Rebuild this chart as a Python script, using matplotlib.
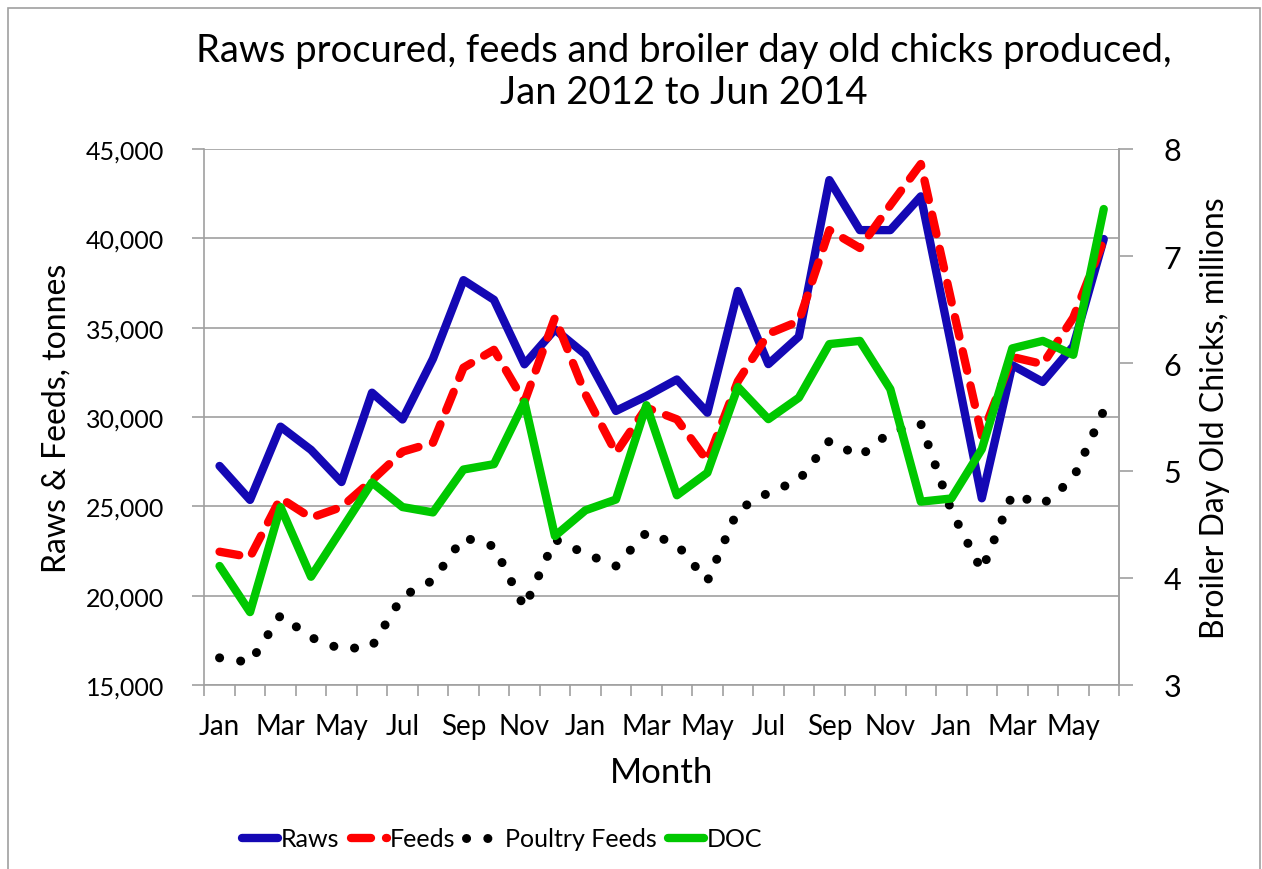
import matplotlib
matplotlib.use("Agg")
import matplotlib.pyplot as plt
from matplotlib.patches import Rectangle
from matplotlib.ticker import FuncFormatter, FixedLocator

plt.rcParams['font.family'] = ['Lato', 'DejaVu Sans']

# --- data ---
months = ['Jan', 'Feb', 'Mar', 'Apr', 'May', 'Jun', 'Jul', 'Aug', 'Sep', 'Oct', 'Nov', 'Dec'] * 2 + \
         ['Jan', 'Feb', 'Mar', 'Apr', 'May', 'Jun']

raws = [27260, 25360, 29460, 28160, 26360, 31360, 29860, 33260, 37660, 36560, 32950, 34900,
        33500, 30340, 31170, 32100, 30240, 37050, 32960, 34500, 43260, 40460, 40460, 42350,
        34000, 25450, 32900, 31960, 33960, 39960]
feeds = [22460, 22160, 25460, 24360, 24960, 26460, 28060, 28560, 32760, 33760, 30850, 35560,
         31270, 28000, 30520, 29870, 27540, 32000, 34660, 35360, 40460, 39460, 41860, 44160,
         36500, 28960, 33360, 32960, 35560, 39900]
poultry = [16520, 16260, 18900, 17660, 17000, 17160, 19960, 20860, 23260, 22760, 19330, 23150,
           22350, 21660, 23530, 22870, 20820, 24800, 25760, 26460, 28660, 27800, 29160, 29620,
           24760, 21400, 25650, 25120, 26560, 30360]
doc = [4.11, 3.68, 4.66, 4.01, 4.45, 4.89, 4.66, 4.61, 5.01, 5.06, 5.64, 4.39,
       4.63, 4.73, 5.61, 4.77, 4.98, 5.78, 5.48, 5.68, 6.18, 6.21, 5.76, 4.71,
       4.74, 5.20, 6.14, 6.21, 6.08, 7.44]

x = list(range(len(months)))
grey = '#A0A0A0'

fig = plt.figure(figsize=(12.62, 8.7), dpi=100)
W, H = 1262, 870
# plot area in pixels: left 204, right 1119, top 150, bottom 686
ax = fig.add_axes([204.3 / W, 1 - 686 / H, (1119 - 204.3) / W, (686 - 150) / H])
ax2 = ax.twinx()

# chart border
fig.patches.append(Rectangle((8 / W, -0.05), (1260 - 8) / W, 1.05 - 9 / H, transform=fig.transFigure,
                             fill=False, edgecolor=grey, lw=1.2))

l1, = ax.plot(x, raws, color='#1408B4', lw=6, solid_joinstyle='round', solid_capstyle='round', label='Raws')
l2, = ax.plot(x, feeds, color='#FF0000', lw=6, dashes=(2.4, 1.8), dash_capstyle='round',
              dash_joinstyle='round', label='Feeds')
l3, = ax.plot(x, poultry, color='black', lw=6.5, dashes=(0.01, 2.35), dash_capstyle='round',
              label='Poultry Feeds')
l4, = ax2.plot(x, doc, color='#00C800', lw=6, solid_joinstyle='round', solid_capstyle='round', label='DOC')

ax.set_xlim(-0.5, len(months) - 0.5)
ax.set_ylim(15000, 45000)
ax2.set_ylim(3, 8)
ax.set_yticks(range(15000, 45001, 5000))
ax.yaxis.set_major_formatter(FuncFormatter(lambda v, p: f'{int(v):,}'))
ax2.set_yticks(range(3, 9))

# ticks at category boundaries, labels at every other month
ax.xaxis.set_major_locator(FixedLocator([i - 0.5 for i in range(len(months) + 1)]))
ax.xaxis.set_major_formatter(FuncFormatter(lambda v, p: ''))
ax.set_xticks(x[::2], minor=True)
ax.set_xticklabels(months[::2], minor=True)
ax.tick_params(axis='x', which='major', length=8, color=grey, width=1.2)
ax.tick_params(axis='x', which='minor', length=0, pad=20, labelsize=20)
ax.tick_params(axis='y', length=9, color=grey, width=1.2, pad=20, labelsize=18)
ax2.tick_params(axis='y', length=10, color=grey, width=1.2, pad=22, labelsize=22)

ax.grid(axis='y', color=grey, lw=1.2)
ax.set_axisbelow(True)
for a in (ax, ax2):
    a.spines['top'].set_visible(False)
    for s in ('left', 'right', 'bottom'):
        a.spines[s].set_color(grey)
        a.spines[s].set_linewidth(1.2)
ax2.spines['left'].set_visible(False)
ax2.spines['bottom'].set_visible(False)

ax.set_ylabel('Raws & Feeds, tonnes', fontsize=23)
ax.yaxis.set_label_coords((72 - 204.3) / 914.7, 0.5)
ax2.set_ylabel('Broiler Day Old Chicks, millions', fontsize=23)
ax2.yaxis.set_label_coords((1200 - 204.3) / 914.7, 0.5)
ax.set_xlabel('Month', fontsize=25)
ax.xaxis.set_label_coords(0.5, (686 - 757) / 536)

fig.text(684 / W, 1 - 72 / H, 'Raws procured, feeds and broiler day old chicks produced,\nJan 2012 to Jun 2014',
         ha='center', va='center', fontsize=27.5, linespacing=1.22)

fig.legend(handles=[l1, l2, l3, l4], loc='center', bbox_to_anchor=(502 / W, 1 - 840 / H), ncol=4,
           frameon=False, fontsize=18, handlelength=1.45, handletextpad=0.1, columnspacing=0.45)

fig.savefig('out.png', dpi=100)
